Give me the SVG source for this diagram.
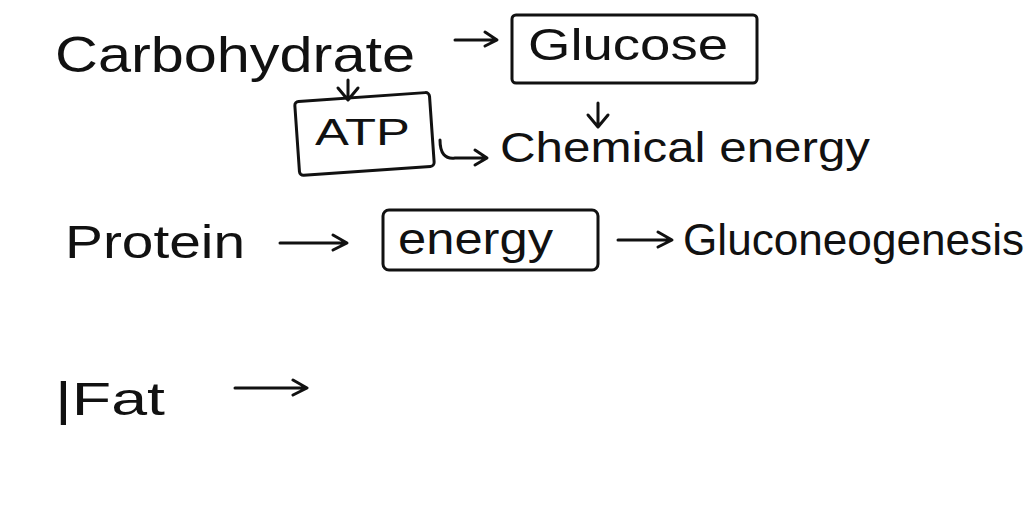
<svg xmlns="http://www.w3.org/2000/svg" width="1024" height="512" viewBox="0 0 1024 512">
<style>
text{font-family:"Liberation Sans",Arial,sans-serif;fill:#111;}
.b{fill:none;stroke:#111;stroke-width:3;}
.c{fill:none;stroke:#111;stroke-width:3;stroke-linecap:round;stroke-linejoin:round;}
</style>
<rect width="1024" height="512" fill="#fff"/>
<g id="carbohydrate"><text x="55" y="72" font-size="50" textLength="360" lengthAdjust="spacingAndGlyphs">Carbohydrate</text></g>
<g id="glucose"><rect class="b" x="512" y="15" width="245" height="68" rx="4"/><text x="528" y="60" font-size="44" textLength="200" lengthAdjust="spacingAndGlyphs">Glucose</text></g>
<g id="atp"><rect class="b" x="297" y="97" width="135" height="74" rx="4" transform="rotate(-4 364 134)"/><text x="315" y="145" font-size="36" textLength="95" lengthAdjust="spacingAndGlyphs">ATP</text></g>
<g id="chemical"><text x="500" y="162" font-size="42" textLength="370" lengthAdjust="spacingAndGlyphs">Chemical energy</text></g>
<g id="protein"><text x="65" y="258" font-size="46" textLength="180" lengthAdjust="spacingAndGlyphs">Protein</text></g>
<g id="energy"><rect class="b" x="383" y="210" width="215" height="60" rx="6"/><text x="398" y="254" font-size="44" textLength="155" lengthAdjust="spacingAndGlyphs">energy</text></g>
<g id="gluconeogenesis"><text x="683" y="255" font-size="44" textLength="341" lengthAdjust="spacingAndGlyphs">Gluconeogenesis</text></g>
<g id="fat"><text x="55" y="415" font-size="46" textLength="110" lengthAdjust="spacingAndGlyphs">|Fat</text></g>
<g id="connectors" class="c">
<path d="M455 40 H495 M485 32 L497 40 L485 46"/>
<path d="M348 80 V98 M338 88 L348 100 L358 88"/>
<path d="M598 103 V125 M588 115 L598 127 L608 115"/>
<path d="M440 140 Q440 160 455 158 H485 M475 150 L487 158 L475 165"/>
<path d="M280 243 H345 M333 235 L347 243 L333 250"/>
<path d="M618 240 H670 M658 232 L672 240 L658 247"/>
<path d="M235 388 H305 M293 380 L307 388 L293 395"/>
</g>
</svg>
